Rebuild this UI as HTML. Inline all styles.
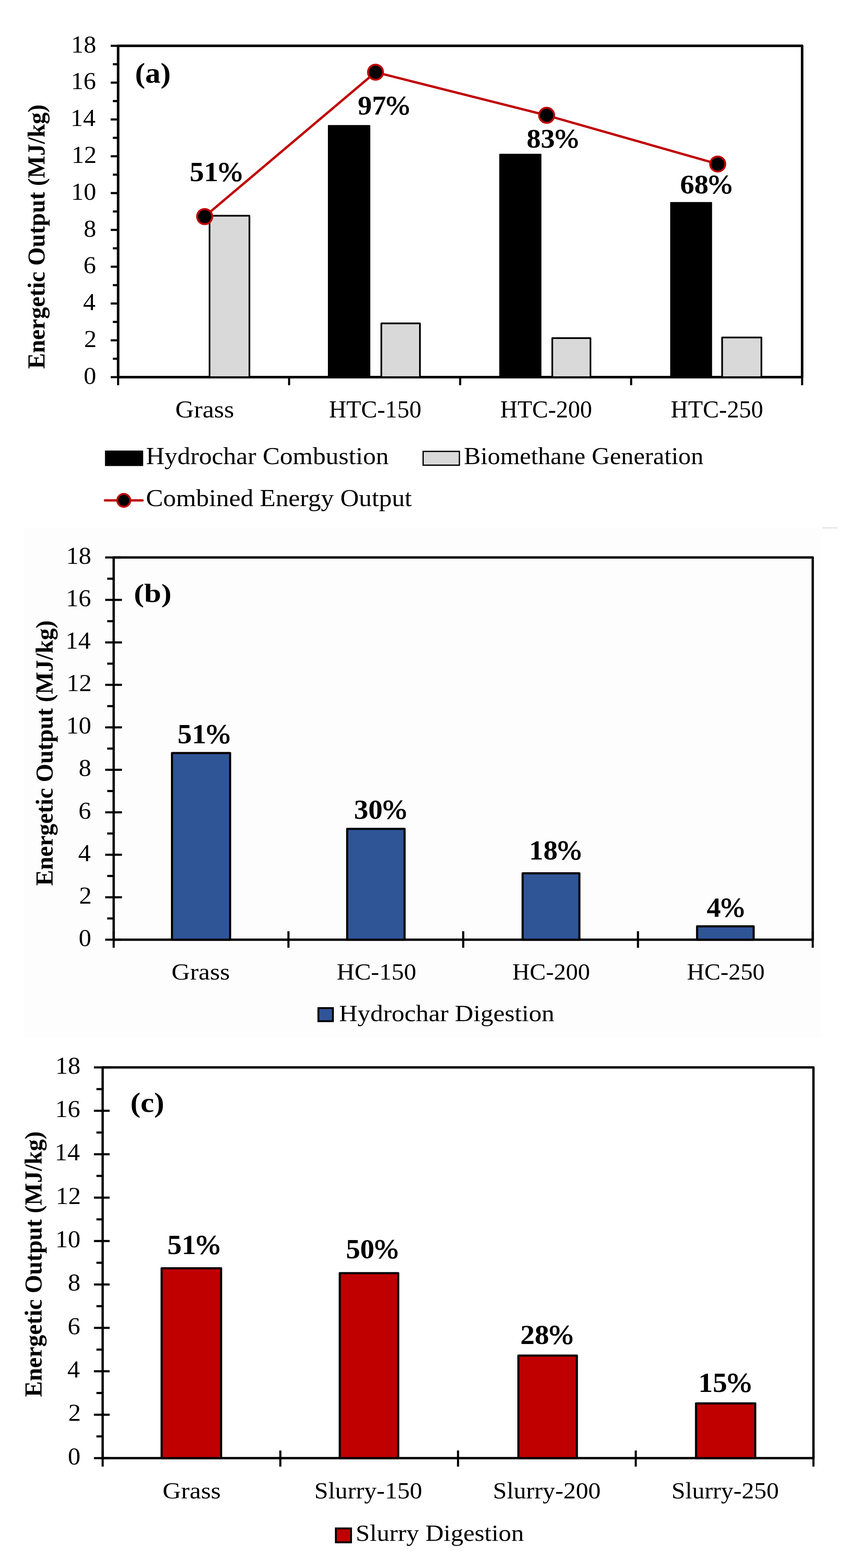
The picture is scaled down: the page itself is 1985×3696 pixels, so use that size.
<!DOCTYPE html>
<html><head><meta charset="utf-8"><title>Energetic Output</title>
<style>html,body{margin:0;padding:0;background:#fff;}svg{display:block;}</style>
</head><body>
<svg width="1985" height="3696" viewBox="0 0 1985 3696" font-family="Liberation Serif, serif">
<rect width="1985" height="3696" fill="#fff"/>
<rect x="58" y="1246" width="1879" height="1201" fill="#FDFDFD"/>
<line x1="261.0" y1="889.0" x2="278.5" y2="889.0" stroke="#000" stroke-width="5" stroke-linecap="butt"/>
<line x1="266.0" y1="845.6" x2="278.5" y2="845.6" stroke="#000" stroke-width="5" stroke-linecap="butt"/>
<line x1="261.0" y1="802.2" x2="278.5" y2="802.2" stroke="#000" stroke-width="5" stroke-linecap="butt"/>
<line x1="266.0" y1="758.8" x2="278.5" y2="758.8" stroke="#000" stroke-width="5" stroke-linecap="butt"/>
<line x1="261.0" y1="715.4" x2="278.5" y2="715.4" stroke="#000" stroke-width="5" stroke-linecap="butt"/>
<line x1="266.0" y1="672.1" x2="278.5" y2="672.1" stroke="#000" stroke-width="5" stroke-linecap="butt"/>
<line x1="261.0" y1="628.7" x2="278.5" y2="628.7" stroke="#000" stroke-width="5" stroke-linecap="butt"/>
<line x1="266.0" y1="585.3" x2="278.5" y2="585.3" stroke="#000" stroke-width="5" stroke-linecap="butt"/>
<line x1="261.0" y1="541.9" x2="278.5" y2="541.9" stroke="#000" stroke-width="5" stroke-linecap="butt"/>
<line x1="266.0" y1="498.5" x2="278.5" y2="498.5" stroke="#000" stroke-width="5" stroke-linecap="butt"/>
<line x1="261.0" y1="455.1" x2="278.5" y2="455.1" stroke="#000" stroke-width="5" stroke-linecap="butt"/>
<line x1="266.0" y1="411.7" x2="278.5" y2="411.7" stroke="#000" stroke-width="5" stroke-linecap="butt"/>
<line x1="261.0" y1="368.3" x2="278.5" y2="368.3" stroke="#000" stroke-width="5" stroke-linecap="butt"/>
<line x1="266.0" y1="324.9" x2="278.5" y2="324.9" stroke="#000" stroke-width="5" stroke-linecap="butt"/>
<line x1="261.0" y1="281.6" x2="278.5" y2="281.6" stroke="#000" stroke-width="5" stroke-linecap="butt"/>
<line x1="266.0" y1="238.2" x2="278.5" y2="238.2" stroke="#000" stroke-width="5" stroke-linecap="butt"/>
<line x1="261.0" y1="194.8" x2="278.5" y2="194.8" stroke="#000" stroke-width="5" stroke-linecap="butt"/>
<line x1="266.0" y1="151.4" x2="278.5" y2="151.4" stroke="#000" stroke-width="5" stroke-linecap="butt"/>
<line x1="261.0" y1="108.0" x2="278.5" y2="108.0" stroke="#000" stroke-width="5" stroke-linecap="butt"/>
<line x1="278.5" y1="889.0" x2="278.5" y2="908.0" stroke="#000" stroke-width="5" stroke-linecap="butt"/>
<line x1="681.6" y1="889.0" x2="681.6" y2="908.0" stroke="#000" stroke-width="5" stroke-linecap="butt"/>
<line x1="1084.8" y1="889.0" x2="1084.8" y2="908.0" stroke="#000" stroke-width="5" stroke-linecap="butt"/>
<line x1="1487.9" y1="889.0" x2="1487.9" y2="908.0" stroke="#000" stroke-width="5" stroke-linecap="butt"/>
<line x1="1891.0" y1="889.0" x2="1891.0" y2="908.0" stroke="#000" stroke-width="5" stroke-linecap="butt"/>
<path d="M278.5,889.0 V108.0 H1891.0 V889.0 Z" fill="none" stroke="#000" stroke-width="6" stroke-linejoin="round"/>
<text transform="translate(197.2,904.6) scale(1.0550,1)" font-size="56.00">0</text>
<text transform="translate(198.2,817.8) scale(1.0550,1)" font-size="56.00">2</text>
<text transform="translate(195.8,731.0) scale(1.0550,1)" font-size="56.00">4</text>
<text transform="translate(196.7,644.3) scale(1.0550,1)" font-size="56.00">6</text>
<text transform="translate(197.2,557.5) scale(1.0550,1)" font-size="56.00">8</text>
<text transform="translate(167.6,470.7) scale(1.0550,1)" font-size="56.00">10</text>
<text transform="translate(168.7,383.9) scale(1.0550,1)" font-size="56.00">12</text>
<text transform="translate(166.3,297.2) scale(1.0550,1)" font-size="56.00">14</text>
<text transform="translate(167.2,210.4) scale(1.0550,1)" font-size="56.00">16</text>
<text transform="translate(167.6,123.6) scale(1.0550,1)" font-size="56.00">18</text>
<rect x="774.0" y="295.8" width="98.0" height="593.2" fill="#000" stroke="#000" stroke-width="2" stroke-linejoin="round"/>
<rect x="1178.0" y="363.4" width="97.4" height="525.6" fill="#000" stroke="#000" stroke-width="2" stroke-linejoin="round"/>
<rect x="1581.0" y="477.3" width="96.7" height="411.7" fill="#000" stroke="#000" stroke-width="2" stroke-linejoin="round"/>
<rect x="494.0" y="508.4" width="94.0" height="380.6" fill="#D9D9D9" stroke="#000" stroke-width="4" stroke-linejoin="round"/>
<rect x="899.0" y="762.2" width="91.0" height="126.8" fill="#D9D9D9" stroke="#000" stroke-width="4" stroke-linejoin="round"/>
<rect x="1302.0" y="797.0" width="90.0" height="92.0" fill="#D9D9D9" stroke="#000" stroke-width="4" stroke-linejoin="round"/>
<rect x="1702.4" y="795.5" width="92.6" height="93.5" fill="#D9D9D9" stroke="#000" stroke-width="4" stroke-linejoin="round"/>
<polyline points="482.5,510.5 885.3,170.2 1288.7,271.8 1692,386.7" fill="none" stroke="#C00000" stroke-width="5.5" stroke-linejoin="round"/>
<circle cx="482.5" cy="510.5" r="17.75" fill="#000" stroke="#C00000" stroke-width="4.5"/>
<circle cx="885.3" cy="170.2" r="17.75" fill="#000" stroke="#C00000" stroke-width="4.5"/>
<circle cx="1288.7" cy="271.8" r="17.75" fill="#000" stroke="#C00000" stroke-width="4.5"/>
<circle cx="1692" cy="386.7" r="17.75" fill="#000" stroke="#C00000" stroke-width="4.5"/>
<text transform="translate(318.2,195.0) scale(1.0805,1)" font-size="67.00" font-weight="bold" fill="#000">(a)</text>
<text transform="translate(446.9,427.0) scale(1.0382,1)" font-size="65.34" font-weight="bold">51<tspan font-weight="normal" stroke="#000" stroke-width="1.24">%</tspan></text>
<text transform="translate(843.6,269.7) scale(1.0476,1)" font-size="63.55" font-weight="bold">97<tspan font-weight="normal" stroke="#000" stroke-width="1.21">%</tspan></text>
<text transform="translate(1241.4,347.8) scale(1.0538,1)" font-size="63.46" font-weight="bold">83<tspan font-weight="normal" stroke="#000" stroke-width="1.21">%</tspan></text>
<text transform="translate(1603.2,456.2) scale(1.0439,1)" font-size="64.15" font-weight="bold">68<tspan font-weight="normal" stroke="#000" stroke-width="1.22">%</tspan></text>
<text transform="translate(413.2,983.6) scale(1.0610,1)" font-size="57.40" fill="#000">Grass</text>
<text transform="translate(775.6,983.6) scale(0.9897,1)" font-size="57.40" fill="#000">HTC-150</text>
<text transform="translate(1179.3,983.6) scale(0.9846,1)" font-size="57.40" fill="#000">HTC-200</text>
<text transform="translate(1581.3,983.6) scale(0.9902,1)" font-size="57.40" fill="#000">HTC-250</text>
<rect x="247.5" y="1062" width="90" height="36.5" fill="#000"/>
<rect x="997.5" y="1064" width="85.5" height="32.5" fill="#D9D9D9" stroke="#000" stroke-width="3"/>
<text transform="translate(343.9,1094.2) scale(1.0597,1)" font-size="57.40" fill="#000">Hydrochar Combustion</text>
<text transform="translate(1093.5,1094.2) scale(1.0335,1)" font-size="57.40" fill="#000">Biomethane Generation</text>
<line x1="247.5" y1="1179.5" x2="336.0" y2="1179.5" stroke="#C00000" stroke-width="5.5" stroke-linecap="round"/>
<circle cx="291.8" cy="1179.5" r="15.25" fill="#000" stroke="#C00000" stroke-width="4.5"/>
<text transform="translate(344.0,1193.4) scale(1.0716,1)" font-size="56.75" fill="#000">Combined Energy Output</text>
<text transform="translate(104.8,869.5) rotate(-90) scale(0.9804,1)" font-size="56.95" font-weight="bold">Energetic Output (MJ/kg)</text>
<line x1="248.0" y1="2215.0" x2="287.5" y2="2215.0" stroke="#000" stroke-width="5" stroke-linecap="butt"/>
<line x1="252.8" y1="2164.9" x2="268.0" y2="2164.9" stroke="#000" stroke-width="5" stroke-linecap="butt"/>
<line x1="248.0" y1="2114.9" x2="287.5" y2="2114.9" stroke="#000" stroke-width="5" stroke-linecap="butt"/>
<line x1="252.8" y1="2064.8" x2="268.0" y2="2064.8" stroke="#000" stroke-width="5" stroke-linecap="butt"/>
<line x1="248.0" y1="2014.8" x2="287.5" y2="2014.8" stroke="#000" stroke-width="5" stroke-linecap="butt"/>
<line x1="252.8" y1="1964.7" x2="268.0" y2="1964.7" stroke="#000" stroke-width="5" stroke-linecap="butt"/>
<line x1="248.0" y1="1914.7" x2="287.5" y2="1914.7" stroke="#000" stroke-width="5" stroke-linecap="butt"/>
<line x1="252.8" y1="1864.6" x2="268.0" y2="1864.6" stroke="#000" stroke-width="5" stroke-linecap="butt"/>
<line x1="248.0" y1="1814.6" x2="287.5" y2="1814.6" stroke="#000" stroke-width="5" stroke-linecap="butt"/>
<line x1="252.8" y1="1764.5" x2="268.0" y2="1764.5" stroke="#000" stroke-width="5" stroke-linecap="butt"/>
<line x1="248.0" y1="1714.4" x2="287.5" y2="1714.4" stroke="#000" stroke-width="5" stroke-linecap="butt"/>
<line x1="252.8" y1="1664.4" x2="268.0" y2="1664.4" stroke="#000" stroke-width="5" stroke-linecap="butt"/>
<line x1="248.0" y1="1614.3" x2="287.5" y2="1614.3" stroke="#000" stroke-width="5" stroke-linecap="butt"/>
<line x1="252.8" y1="1564.3" x2="268.0" y2="1564.3" stroke="#000" stroke-width="5" stroke-linecap="butt"/>
<line x1="248.0" y1="1514.2" x2="287.5" y2="1514.2" stroke="#000" stroke-width="5" stroke-linecap="butt"/>
<line x1="252.8" y1="1464.2" x2="268.0" y2="1464.2" stroke="#000" stroke-width="5" stroke-linecap="butt"/>
<line x1="248.0" y1="1414.1" x2="287.5" y2="1414.1" stroke="#000" stroke-width="5" stroke-linecap="butt"/>
<line x1="252.8" y1="1364.1" x2="268.0" y2="1364.1" stroke="#000" stroke-width="5" stroke-linecap="butt"/>
<line x1="248.0" y1="1314.0" x2="287.5" y2="1314.0" stroke="#000" stroke-width="5" stroke-linecap="butt"/>
<line x1="268.0" y1="2195.0" x2="268.0" y2="2234.0" stroke="#000" stroke-width="5" stroke-linecap="butt"/>
<line x1="680.0" y1="2195.0" x2="680.0" y2="2234.0" stroke="#000" stroke-width="5" stroke-linecap="butt"/>
<line x1="1092.0" y1="2195.0" x2="1092.0" y2="2234.0" stroke="#000" stroke-width="5" stroke-linecap="butt"/>
<line x1="1504.0" y1="2195.0" x2="1504.0" y2="2234.0" stroke="#000" stroke-width="5" stroke-linecap="butt"/>
<line x1="1916.0" y1="2195.0" x2="1916.0" y2="2234.0" stroke="#000" stroke-width="5" stroke-linecap="butt"/>
<path d="M268.0,2215.0 V1314.0 H1916.0 V2215.0 Z" fill="none" stroke="#000" stroke-width="5.5" stroke-linejoin="round"/>
<text transform="translate(185.5,2229.8) scale(1.0600,1)" font-size="56.00">0</text>
<text transform="translate(186.6,2129.7) scale(1.0600,1)" font-size="56.00">2</text>
<text transform="translate(184.2,2029.6) scale(1.0600,1)" font-size="56.00">4</text>
<text transform="translate(185.1,1929.5) scale(1.0600,1)" font-size="56.00">6</text>
<text transform="translate(185.5,1829.4) scale(1.0600,1)" font-size="56.00">8</text>
<text transform="translate(155.9,1729.2) scale(1.0600,1)" font-size="56.00">10</text>
<text transform="translate(156.9,1629.1) scale(1.0600,1)" font-size="56.00">12</text>
<text transform="translate(154.5,1529.0) scale(1.0600,1)" font-size="56.00">14</text>
<text transform="translate(155.4,1428.9) scale(1.0600,1)" font-size="56.00">16</text>
<text transform="translate(155.9,1328.8) scale(1.0600,1)" font-size="56.00">18</text>
<rect x="405.5" y="1775.1" width="137.0" height="439.9" fill="#2F5597" stroke="#000" stroke-width="5" stroke-linejoin="round"/>
<rect x="818.5" y="1953.7" width="135.3" height="261.3" fill="#2F5597" stroke="#000" stroke-width="5" stroke-linejoin="round"/>
<rect x="1232.1" y="2058.5" width="133.8" height="156.5" fill="#2F5597" stroke="#000" stroke-width="5" stroke-linejoin="round"/>
<rect x="1643.4" y="2183.5" width="133.3" height="31.5" fill="#2F5597" stroke="#000" stroke-width="5" stroke-linejoin="round"/>
<text transform="translate(315.6,1418.6) scale(1.1682,1)" font-size="62.15" font-weight="bold" fill="#000">(b)</text>
<text transform="translate(418.5,1752.3) scale(1.0373,1)" font-size="65.34" font-weight="bold">51<tspan font-weight="normal" stroke="#000" stroke-width="1.24">%</tspan></text>
<text transform="translate(834.5,1929.5) scale(1.0477,1)" font-size="64.60" font-weight="bold">30<tspan font-weight="normal" stroke="#000" stroke-width="1.23">%</tspan></text>
<text transform="translate(1247.3,2025.6) scale(1.0373,1)" font-size="64.85" font-weight="bold">18<tspan font-weight="normal" stroke="#000" stroke-width="1.23">%</tspan></text>
<text transform="translate(1665.9,2160.6) scale(1.0261,1)" font-size="65.10" font-weight="bold">4<tspan font-weight="normal" stroke="#000" stroke-width="1.24">%</tspan></text>
<text transform="translate(404.3,2309.0) scale(1.0827,1)" font-size="55.88" fill="#000">Grass</text>
<text transform="translate(793.7,2309.0) scale(1.0420,1)" font-size="55.88" fill="#000">HC-150</text>
<text transform="translate(1207.7,2309.0) scale(1.0182,1)" font-size="55.88" fill="#000">HC-200</text>
<text transform="translate(1619.5,2309.0) scale(1.0182,1)" font-size="55.88" fill="#000">HC-250</text>
<rect x="750.6" y="2376.2" width="34.2" height="30.9" fill="#2F5597" stroke="#000" stroke-width="4.4"/>
<text transform="translate(799.2,2407.0) scale(1.0923,1)" font-size="55.27" fill="#000">Hydrochar Digestion</text>
<text transform="translate(123.7,2088.0) rotate(-90) scale(0.9950,1)" font-size="56.34" font-weight="bold">Energetic Output (MJ/kg)</text>
<line x1="221.5" y1="3437.0" x2="258.5" y2="3437.0" stroke="#000" stroke-width="5" stroke-linecap="butt"/>
<line x1="227.4" y1="3385.8" x2="242.0" y2="3385.8" stroke="#000" stroke-width="5" stroke-linecap="butt"/>
<line x1="221.5" y1="3334.7" x2="258.5" y2="3334.7" stroke="#000" stroke-width="5" stroke-linecap="butt"/>
<line x1="227.4" y1="3283.5" x2="242.0" y2="3283.5" stroke="#000" stroke-width="5" stroke-linecap="butt"/>
<line x1="221.5" y1="3232.3" x2="258.5" y2="3232.3" stroke="#000" stroke-width="5" stroke-linecap="butt"/>
<line x1="227.4" y1="3181.2" x2="242.0" y2="3181.2" stroke="#000" stroke-width="5" stroke-linecap="butt"/>
<line x1="221.5" y1="3130.0" x2="258.5" y2="3130.0" stroke="#000" stroke-width="5" stroke-linecap="butt"/>
<line x1="227.4" y1="3078.8" x2="242.0" y2="3078.8" stroke="#000" stroke-width="5" stroke-linecap="butt"/>
<line x1="221.5" y1="3027.7" x2="258.5" y2="3027.7" stroke="#000" stroke-width="5" stroke-linecap="butt"/>
<line x1="227.4" y1="2976.5" x2="242.0" y2="2976.5" stroke="#000" stroke-width="5" stroke-linecap="butt"/>
<line x1="221.5" y1="2925.3" x2="258.5" y2="2925.3" stroke="#000" stroke-width="5" stroke-linecap="butt"/>
<line x1="227.4" y1="2874.2" x2="242.0" y2="2874.2" stroke="#000" stroke-width="5" stroke-linecap="butt"/>
<line x1="221.5" y1="2823.0" x2="258.5" y2="2823.0" stroke="#000" stroke-width="5" stroke-linecap="butt"/>
<line x1="227.4" y1="2771.8" x2="242.0" y2="2771.8" stroke="#000" stroke-width="5" stroke-linecap="butt"/>
<line x1="221.5" y1="2720.7" x2="258.5" y2="2720.7" stroke="#000" stroke-width="5" stroke-linecap="butt"/>
<line x1="227.4" y1="2669.5" x2="242.0" y2="2669.5" stroke="#000" stroke-width="5" stroke-linecap="butt"/>
<line x1="221.5" y1="2618.3" x2="258.5" y2="2618.3" stroke="#000" stroke-width="5" stroke-linecap="butt"/>
<line x1="227.4" y1="2567.2" x2="242.0" y2="2567.2" stroke="#000" stroke-width="5" stroke-linecap="butt"/>
<line x1="221.5" y1="2516.0" x2="258.5" y2="2516.0" stroke="#000" stroke-width="5" stroke-linecap="butt"/>
<line x1="242.0" y1="3419.0" x2="242.0" y2="3457.0" stroke="#000" stroke-width="5" stroke-linecap="butt"/>
<line x1="660.9" y1="3419.0" x2="660.9" y2="3457.0" stroke="#000" stroke-width="5" stroke-linecap="butt"/>
<line x1="1079.8" y1="3419.0" x2="1079.8" y2="3457.0" stroke="#000" stroke-width="5" stroke-linecap="butt"/>
<line x1="1498.8" y1="3419.0" x2="1498.8" y2="3457.0" stroke="#000" stroke-width="5" stroke-linecap="butt"/>
<line x1="1917.7" y1="3419.0" x2="1917.7" y2="3457.0" stroke="#000" stroke-width="5" stroke-linecap="butt"/>
<path d="M242.0,3437.0 V2516.0 H1917.7 V3437.0 Z" fill="none" stroke="#000" stroke-width="5.5" stroke-linejoin="round"/>
<text transform="translate(160.0,3451.6) scale(1.0600,1)" font-size="56.00">0</text>
<text transform="translate(161.1,3349.3) scale(1.0600,1)" font-size="56.00">2</text>
<text transform="translate(158.7,3246.9) scale(1.0600,1)" font-size="56.00">4</text>
<text transform="translate(159.6,3144.6) scale(1.0600,1)" font-size="56.00">6</text>
<text transform="translate(160.0,3042.3) scale(1.0600,1)" font-size="56.00">8</text>
<text transform="translate(130.4,2939.9) scale(1.0600,1)" font-size="56.00">10</text>
<text transform="translate(131.4,2837.6) scale(1.0600,1)" font-size="56.00">12</text>
<text transform="translate(129.0,2735.3) scale(1.0600,1)" font-size="56.00">14</text>
<text transform="translate(129.9,2632.9) scale(1.0600,1)" font-size="56.00">16</text>
<text transform="translate(130.4,2530.6) scale(1.0600,1)" font-size="56.00">18</text>
<rect x="381.0" y="2989.5" width="140.2" height="447.5" fill="#C00000" stroke="#000" stroke-width="5" stroke-linejoin="round"/>
<rect x="801.0" y="3001.1" width="137.8" height="435.9" fill="#C00000" stroke="#000" stroke-width="5" stroke-linejoin="round"/>
<rect x="1222.1" y="3195.3" width="137.9" height="241.7" fill="#C00000" stroke="#000" stroke-width="5" stroke-linejoin="round"/>
<rect x="1640.9" y="3308.1" width="139.6" height="128.9" fill="#C00000" stroke="#000" stroke-width="5" stroke-linejoin="round"/>
<text transform="translate(307.2,2620.8) scale(1.1045,1)" font-size="65.34" font-weight="bold" fill="#000">(c)</text>
<text transform="translate(394.4,2955.7) scale(1.0415,1)" font-size="65.19" font-weight="bold">51<tspan font-weight="normal" stroke="#000" stroke-width="1.24">%</tspan></text>
<text transform="translate(815.4,2965.6) scale(1.0313,1)" font-size="65.34" font-weight="bold">50<tspan font-weight="normal" stroke="#000" stroke-width="1.24">%</tspan></text>
<text transform="translate(1226.5,3168.0) scale(1.0542,1)" font-size="64.60" font-weight="bold">28<tspan font-weight="normal" stroke="#000" stroke-width="1.23">%</tspan></text>
<text transform="translate(1646.2,3281.3) scale(1.0525,1)" font-size="64.85" font-weight="bold">15<tspan font-weight="normal" stroke="#000" stroke-width="1.23">%</tspan></text>
<text transform="translate(383.3,3531.5) scale(1.0792,1)" font-size="55.85" fill="#000">Grass</text>
<text transform="translate(741.1,3531.5) scale(1.0512,1)" font-size="55.85" fill="#000">Slurry-150</text>
<text transform="translate(1162.0,3531.5) scale(1.0508,1)" font-size="55.85" fill="#000">Slurry-200</text>
<text transform="translate(1582.9,3531.5) scale(1.0470,1)" font-size="55.85" fill="#000">Slurry-250</text>
<rect x="791.8" y="3602.7" width="35.8" height="32.8" fill="#C00000" stroke="#000" stroke-width="4.4"/>
<text transform="translate(838.4,3632.3) scale(1.0968,1)" font-size="54.49" fill="#000">Slurry Digestion</text>
<text transform="translate(97.8,3293.0) rotate(-90) scale(0.9985,1)" font-size="56.18" font-weight="bold">Energetic Output (MJ/kg)</text>
<line x1="1939" y1="1244.2" x2="1974.5" y2="1244.2" stroke="#E4E4E4" stroke-width="3"/>
</svg>
</body></html>
